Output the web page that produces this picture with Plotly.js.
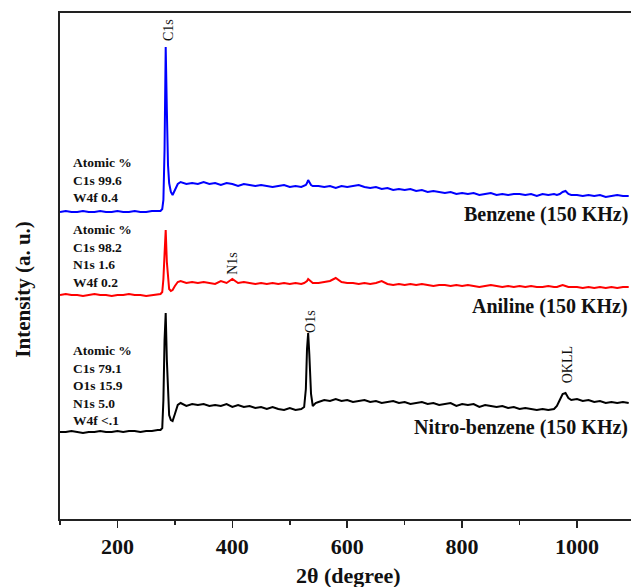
<!DOCTYPE html>
<html>
<head>
<meta charset="utf-8">
<script src="https://cdn.plot.ly/plotly-3.0.1.min.js"></script>
<style>html,body{margin:0;padding:0;background:#fff;}#chart{width:631px;height:587px;}</style>
</head>
<body>
<div id="chart"></div>
<script>
// 2θ values shared by all three spectra
const twoTheta = [
  100,110,120,130,140,150,160,170,180,190,200,210,220,230,240,250,260,270,
  275,278,280,282,284,286,288,290,293,296,300,305,310,
  320,330,340,350,360,370,380,390,400,410,420,430,440,450,460,470,480,490,500,510,520,
  525,528,530,532,534,537,540,545,
  550,560,570,580,590,600,610,620,630,640,650,660,670,680,690,700,710,720,730,740,750,
  760,770,780,790,800,810,820,830,840,850,860,870,880,890,900,910,920,930,940,950,960,
  965,970,975,980,985,990,
  1000,1010,1020,1030,1040,1050,1060,1070,1080,1090
];

// Benzene (150 KHz) – offset spectrum, arbitrary units
const benzene = [
  307,308,307,307,308,307,307,308,307,307,308,307,307,308,307,307,308,308,
  308,310,319,369,472,409,354,336,327,324,329,335,337,
  335,336,335,337,335,336,334,336,335,333,335,334,333,334,333,332,333,334,332,333,332,
  333,334,336,339,337,334,333,333,
  333,332,333,331,333,332,333,334,332,331,332,330,331,329,330,329,330,328,329,327,328,
  327,326,327,325,326,325,326,324,325,326,324,325,324,325,325,324,325,323,325,324,325,
  324,325,327,328,325,324,
  324,323,324,323,324,322,323,324,323,323
];

// Aniline (150 KHz)
const aniline = [
  224,225,224,224,223,224,225,224,224,223,224,224,225,224,224,223,224,225,
  225,227,240,265,289,257,237,230,228,229,233,237,238,
  236,237,236,237,236,235,238,236,240,236,237,236,235,236,235,236,235,236,235,236,235,
  236,237,238,240,239,237,236,236,
  236,237,238,241,237,236,236,235,236,235,236,238,235,234,235,234,235,234,235,234,233,
  234,234,233,234,233,234,233,232,233,234,233,232,233,232,233,232,233,232,232,233,232,
  232,233,234,233,232,232,
  232,231,232,231,232,231,232,231,232,232
];

// Nitro-benzene (150 KHz)
const nitrobenzene = [
  87,87,88,87,86,87,87,88,87,87,88,87,88,88,87,88,88,89,
  89,91,119,179,206,159,119,104,99,98,105,114,116,
  113,115,114,115,113,114,113,115,112,114,112,113,111,112,110,112,110,109,111,109,110,
  112,130,170,186,165,125,113,116,
  117,119,118,120,118,119,117,118,119,117,118,116,117,118,116,117,115,116,117,115,116,
  114,115,116,113,115,114,115,112,114,113,112,113,111,112,110,111,110,109,110,109,110,
  113,119,125,126,121,119,
  120,118,119,117,118,116,117,116,117,116
];

const seriesNames = ['Benzene (150 KHz)', 'Aniline (150 KHz)', 'Nitro-benzene (150 KHz)'];
const seriesColors = ['#0000ff', '#ff0000', '#000000'];
const xTicks = [200, 400, 600, 800, 1000];

const serif = 'Liberation Serif, Times New Roman, serif';

const traces = [benzene, aniline, nitrobenzene].map((ys, i) => ({
  x: twoTheta, y: ys, type: 'scatter', mode: 'lines',
  name: seriesNames[i], line: {color: seriesColors[i], width: 2},
  showlegend: false, hoverinfo: 'skip'
}));

const compText = [
  'Atomic %<br>C1s 99.6<br>W4f 0.4',
  'Atomic %<br>C1s 98.2<br>N1s 1.6<br>W4f 0.2',
  'Atomic %<br>C1s 79.1<br>O1s 15.9<br>N1s 5.0<br>W4f &lt;.1'
];
const compY = [339, 263, 134];
const labelY = [305, 213, 92];

const peakLabels = [
  {text: 'C1s', x: 288, y: 489},
  {text: 'N1s', x: 399, y: 256},
  {text: 'O1s', x: 535, y: 198},
  {text: 'OKLL', x: 983, y: 154}
];

const annotations = [];
seriesNames.forEach((n, i) => {
  annotations.push({xref: 'paper', yref: 'y', x: 1, y: labelY[i], xanchor: 'right', yanchor: 'middle',
    xshift: -1, text: n, showarrow: false, font: {family: serif, size: 20, color: '#111', weight: 'bold'}});
  annotations.push({xref: 'x', yref: 'y', x: 119, y: compY[i], xanchor: 'left', yanchor: 'middle',
    align: 'left', text: compText[i], showarrow: false,
    font: {family: serif, size: 13.5, color: '#111', weight: 'bold'}});
});
peakLabels.forEach(p => {
  annotations.push({xref: 'x', yref: 'y', x: p.x, y: p.y, text: p.text, textangle: -90,
    showarrow: false, xanchor: 'center', yanchor: 'middle',
    font: {family: serif, size: 14, color: '#111'}});
});
annotations.push({xref: 'paper', yref: 'paper', x: -0.065, y: 0.455, text: 'Intensity (a. u.)',
  textangle: -90, showarrow: false, xanchor: 'center', yanchor: 'middle',
  font: {family: serif, size: 21, color: '#111', weight: 'bold'}});
annotations.push({xref: 'paper', yref: 'paper', x: 0.506, y: -0.111, text: '2θ (degree)',
  showarrow: false, xanchor: 'center', yanchor: 'middle',
  font: {family: serif, size: 22, color: '#111', weight: 'bold'}});

const layout = {
  width: 631, height: 587,
  margin: {l: 60, r: 0, t: 13, b: 68},
  paper_bgcolor: '#fff', plot_bgcolor: '#fff',
  xaxis: {
    range: [100, 1094], showgrid: false, zeroline: false,
    showline: true, linecolor: '#222', linewidth: 2, mirror: true,
    tickmode: 'array', tickvals: xTicks, ticktext: xTicks.map(String),
    ticks: 'outside', ticklen: 7, tickwidth: 1.5, tickcolor: '#222',
    minor: {tickmode: 'array', tickvals: [100, 300, 500, 700, 900], ticks: 'outside', ticklen: 4, tickwidth: 1.5, tickcolor: '#222'},
    tickfont: {family: serif, size: 22, color: '#111', weight: 'bold'}
  },
  yaxis: {
    range: [0, 506], showgrid: false, zeroline: false, showticklabels: false,
    showline: true, linecolor: '#222', linewidth: 2, ticks: ''
  },
  annotations: annotations
};

Plotly.newPlot('chart', traces, layout, {displayModeBar: false, staticPlot: true});
</script>
</body>
</html>
